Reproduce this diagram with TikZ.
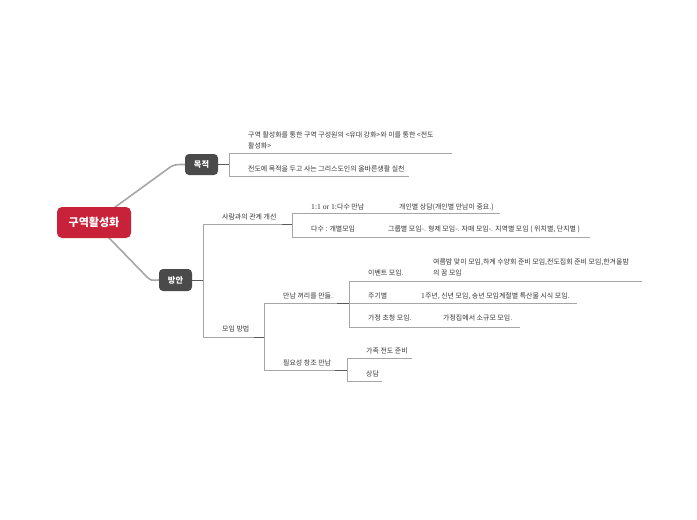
\documentclass[tikz,border=0pt]{standalone}
\usepackage{fontspec}
\setmainfont{Noto Sans CJK KR}
\newfontfamily\latinserif{Liberation Serif}[Scale=1.1]
\usetikzlibrary{calc,backgrounds}
\definecolor{rootred}{HTML}{C8213A}
\definecolor{topicgray}{HTML}{4A4A4A}
\definecolor{linegray}{HTML}{A6A6A6}
\definecolor{stubgray}{HTML}{5A5A5A}
\definecolor{txt}{HTML}{333333}
\tikzset{
  rootbox/.style={fill=rootred, rounded corners=5pt, minimum width=74pt, minimum height=31pt, text=white, font=\fontsize{11}{13}\selectfont\bfseries, inner sep=0pt},
  mainbox/.style={fill=topicgray, rounded corners=4pt, minimum width=33pt, minimum height=22pt, text=white, font=\fontsize{8.2}{10}\selectfont\bfseries, inner sep=0pt},
  leaf/.style={anchor=west, inner sep=0pt, text=txt, font=\fontsize{6.95}{11}\selectfont, align=left},
  branch/.style={draw=linegray, line width=1.6pt, line cap=round},
  tree/.style={draw=linegray, line width=0.9pt},
  stub/.style={draw=stubgray, line width=1pt},
}
\begin{document}
\begin{tikzpicture}[x=1pt,y=-1pt]
\useasboundingbox (0,0) rectangle (697,520);
% main nodes
\node[rootbox] (root) at (94,222.5) {구역활성화};
\node[mainbox, minimum height=21pt] (mj) at (201.5,164.5) {목적};
\node[mainbox] (ba) at (175.5,280) {방안};
% leaves
\node[leaf] (m1) at (248,140.5) {구역 활성화를 통한 구역 구성원의 <유대 강화>와 이를 통한 <전도\\활성화>};
\node[leaf] (m2) at (248,169) {전도에 목적을 두고 사는 그리스도인의 올바른생활 실천};
\node[leaf] (s1) at (222,217) {사람과의 관계 개선};
\node[leaf] (s11) at (311,207) {{\latinserif 1:1 or 1:}다수 만남};
\node[leaf] (s111) at (399,207) {개인별 상담(개인별 만남이 중요.)};
\node[leaf] (s12) at (311,229) {다수 : 개별모임};
\node[leaf] (s121) at (388,229) {그룹별 모임-. 형제 모임-. 자매 모임-. 지역별 모임 ( 위치별, 단지별 )};
\node[leaf] (s2) at (222,329) {모임 방법};
\node[leaf] (s21) at (283,296) {만남 꺼리를 만듦.};
\node[leaf] (e1) at (368,273) {이벤트 모임.};
\node[leaf] (e11) at (433,267.5) {여름밤 맞이 모임,하계 수양회 준비 모임,전도집회 준비 모임,한겨울밤\\의 꿈 모임};
\node[leaf] (e2) at (368,296) {주기별};
\node[leaf] (e21) at (421,296) {{\latinserif 1}주년, 신년 모임, 송년 모임계절별 특산물 시식 모임.};
\node[leaf] (e3) at (368,318) {가정 초청 모임.};
\node[leaf] (e31) at (443,318) {가정집에서 소규모 모임.};
\node[leaf] (s22) at (283,363) {필요성 창조 만남};
\node[leaf] (f1) at (366,351) {가족 전도 준비};
\node[leaf] (f2) at (366,374) {상담};
% coordinates
\coordinate (k1) at (171,166.5);
\coordinate (k2) at (147,277);
\coordinate (mjx) at (229,164.5);
\coordinate (m1a) at (229,153); \coordinate (m1b) at (452,153);
\coordinate (m2a) at (229,176); \coordinate (m2b) at (409,176);
\coordinate (bax) at (203,280);
\coordinate (s1a) at (203,224); \coordinate (s1b) at (292,224); \coordinate (s1s) at (282,224);
\coordinate (s2a) at (203,337); \coordinate (s2b) at (264,337); \coordinate (s2s) at (254,337);
\coordinate (s11a) at (292,213); \coordinate (s11b) at (500,213);
\coordinate (s12a) at (292,237); \coordinate (s12b) at (590,237);
\coordinate (s21a) at (264,303.5); \coordinate (s21b) at (349,303.5); \coordinate (s21s) at (337,303.5);
\coordinate (s22a) at (264,370); \coordinate (s22b) at (347,370); \coordinate (s22s) at (335,370);
\coordinate (e1a) at (349,281); \coordinate (e1b) at (642,281);
\coordinate (e2a) at (349,303.5); \coordinate (e2b) at (577,303.5);
\coordinate (e3a) at (349,327); \coordinate (e3b) at (520,327);
\coordinate (f1a) at (347,358); \coordinate (f1b) at (412,358);
\coordinate (f2a) at (347,381); \coordinate (f2b) at (382,381);
\begin{scope}[on background layer]
\draw[branch] (root.center) -- (k1) .. controls (176,164.5) .. (mj.west);
\draw[branch] (root.center) -- (k2) .. controls (151,280.5) .. (ba.west);
\end{scope}
% tree lines
\draw[tree] (m1b) -- (m1a) -- (m2a) -- (m2b);
\draw[stub] (mj.east) -- (mjx);
\draw[tree] (s1b) -- (s1a) -- (s2a) -- (s2b);
\draw[stub] (ba.east) -- (bax);
\draw[tree] (s11b) -- (s11a) -- (s12a) -- (s12b);
\draw[stub] (s1s) -- (s1b);
\draw[tree] (s21b) -- (s21a) -- (s22a) -- (s22b);
\draw[stub] (s2s) -- (s2b);
\draw[tree] (e1b) -- (e1a) -- (e3a) -- (e3b);
\draw[tree] (e2a) -- (e2b);
\draw[stub] (s21s) -- (s21b);
\draw[tree] (f1b) -- (f1a) -- (f2a) -- (f2b);
\draw[stub] (s22s) -- (s22b);
\end{tikzpicture}
\end{document}
